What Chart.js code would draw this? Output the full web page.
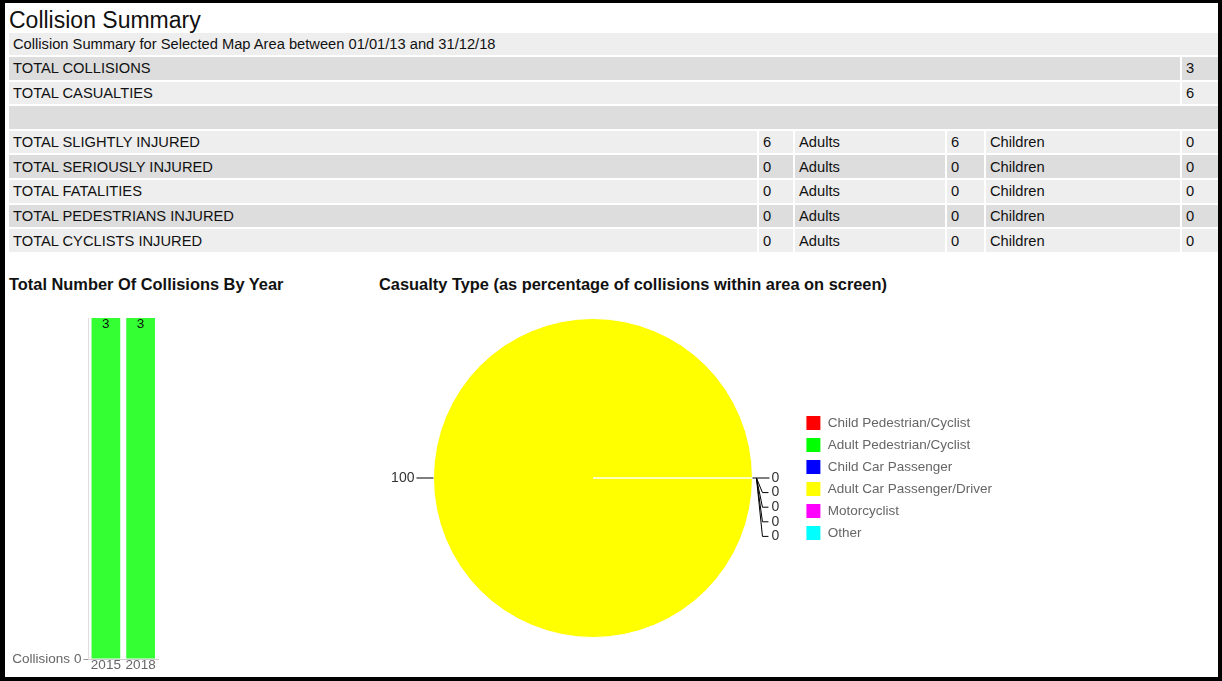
<!DOCTYPE html>
<html>
<head>
<meta charset="utf-8">
<script src="https://cdn.jsdelivr.net/npm/chart.js@4.4.0/dist/chart.umd.min.js"></script>
<style>
  html, body { margin:0; padding:0; background:#fff; width:1222px; height:681px; overflow:hidden; font-family: Arial, "Liberation Sans", sans-serif; }
  #frame { position:fixed; left:0; top:0; width:1222px; height:681px; box-sizing:border-box;
           border-style:solid; border-color:#000; border-width:3px 4px 4px 5px; pointer-events:none; z-index:10; }
  #heading { position:absolute; left:9px; top:8.5px; font-size:23px; line-height:23px; color:#111; white-space:nowrap; }
  #summary { position:absolute; left:7px; top:30.5px; width:1213px; table-layout:fixed; border-collapse:separate; border-spacing:2px; }
  #summary td { height:22.6px; padding:0 0 0 4px; font-size:14.7px; color:#111; white-space:nowrap; overflow:hidden; vertical-align:middle; }
  #summary tr.l td { background:#eeeeee; }
  #summary tr.d td { background:#dddddd; }
  .ctitle { position:absolute; font-weight:bold; font-size:16.4px; line-height:16px; color:#111; white-space:nowrap; }
  #barWrap { position:absolute; left:5px; top:300px; width:200px; height:381px; }
  #pieWrap { position:absolute; left:380px; top:298px; width:640px; height:360px; }
</style>
</head>
<body>
<div id="frame"></div>
<div id="heading">Collision Summary</div>
<table id="summary">
  <colgroup><col style="width:748px"><col style="width:34px"><col style="width:150px"><col style="width:37px"><col style="width:194px"><col style="width:36px"></colgroup>
  <tbody id="tbody"></tbody>
</table>
<div class="ctitle" style="left:9px;top:276px;">Total Number Of Collisions By Year</div>
<div class="ctitle" style="left:379px;top:276px;">Casualty Type (as percentage of collisions within area on screen)</div>
<div id="barWrap"><canvas id="bar" width="200" height="381"></canvas></div>
<div id="pieWrap"><canvas id="pie" width="640" height="360"></canvas></div>
<script>
// ---------- data ----------
const summaryHeader = 'Collision Summary for Selected Map Area between 01/01/13 and 31/12/18';
const totalLabels = ['TOTAL COLLISIONS', 'TOTAL CASUALTIES'];
const totalValues = [3, 6];
const injuryLabels = ['TOTAL SLIGHTLY INJURED', 'TOTAL SERIOUSLY INJURED', 'TOTAL FATALITIES', 'TOTAL PEDESTRIANS INJURED', 'TOTAL CYCLISTS INJURED'];
const injuryTotals = [6, 0, 0, 0, 0];
const injuryAdults = [6, 0, 0, 0, 0];
const injuryChildren = [0, 0, 0, 0, 0];

const years = ['2015', '2018'];
const collisionsByYear = [3, 3];
const yAxisTicks = [0];

const casualtyTypes = ['Child Pedestrian/Cyclist', 'Adult Pedestrian/Cyclist', 'Child Car Passenger', 'Adult Car Passenger/Driver', 'Motorcyclist', 'Other'];
const casualtyPercent = [0, 0, 0, 100, 0, 0];

// ---------- styles ----------
const casualtyColors = ['#ff0000', '#00ff00', '#0000ff', '#ffff00', '#ff00ff', '#00ffff'];
const FONT = 'Arial, "Liberation Sans", sans-serif';

// ---------- table ----------
(function buildTable() {
  const tb = document.getElementById('tbody');
  let rowIdx = 0;
  function addRow(cells) {
    const tr = document.createElement('tr');
    tr.className = (rowIdx++ % 2 === 0) ? 'l' : 'd';
    cells.forEach(c => {
      const td = document.createElement('td');
      if (c.span) td.colSpan = c.span;
      td.textContent = c.t;
      tr.appendChild(td);
    });
    tb.appendChild(tr);
  }
  addRow([{t: summaryHeader, span: 6}]);
  totalLabels.forEach((l, i) => addRow([{t: l, span: 5}, {t: String(totalValues[i])}]));
  addRow([{t: '', span: 6}]);
  injuryLabels.forEach((l, i) => addRow([
    {t: l}, {t: String(injuryTotals[i])}, {t: 'Adults'}, {t: String(injuryAdults[i])}, {t: 'Children'}, {t: String(injuryChildren[i])}
  ]));
})();

Chart.defaults.font.family = FONT;
Chart.defaults.color = '#666';

// ---------- bar chart ----------
const barValueLabels = {
  id: 'barValueLabels',
  afterDatasetsDraw(chart) {
    const ctx = chart.ctx;
    const meta = chart.getDatasetMeta(0);
    const data = chart.data.datasets[0].data;
    ctx.save();
    ctx.font = '13.5px ' + FONT;
    ctx.fillStyle = '#111';
    ctx.textAlign = 'center';
    ctx.textBaseline = 'middle';
    meta.data.forEach((bar, i) => {
      const p = bar.getProps(['x', 'y'], true);
      ctx.fillText(String(data[i]), p.x, p.y + 6);
    });
    ctx.restore();
  }
};
const yAxisName = {
  id: 'yAxisName',
  afterDraw(chart) {
    const ctx = chart.ctx;
    const ys = chart.scales.y;
    ctx.save();
    ctx.font = '13.5px ' + FONT;
    ctx.fillStyle = '#666';
    ctx.textAlign = 'right';
    ctx.textBaseline = 'middle';
    ctx.fillText('Collisions', chart.chartArea.left - 18.5, ys.getPixelForValue(0));
    ctx.restore();
  }
};

new Chart(document.getElementById('bar'), {
  type: 'bar',
  data: {
    labels: years,
    datasets: [{ data: collisionsByYear, backgroundColor: '#33ff33', barPercentage: 0.826, categoryPercentage: 1 }]
  },
  options: {
    responsive: false,
    animation: false,
    layout: { padding: { left: 0, right: 47, top: 18, bottom: 8.5 } },
    plugins: { legend: { display: false }, tooltip: { enabled: false } },
    scales: {
      x: {
        grid: { display: false, drawTicks: false, tickLength: 0 },
        border: { display: true, color: '#cccccc' },
        ticks: { padding: 0, autoSkip: false, maxRotation: 0, minRotation: 0, font: { size: 13.5, lineHeight: 1 }, color: '#666' }
      },
      y: {
        min: 0, max: 3,
        afterBuildTicks(scale) { scale.ticks = yAxisTicks.map(v => ({ value: v })); },
        afterFit(scale) { scale.width = 83.5; },
        grid: {
          drawOnChartArea: false, drawTicks: true, tickLength: 5,
          color: '#999999'
        },
        border: { display: true, color: '#dddddd' },
        ticks: { padding: 2, font: { size: 13.5 }, color: '#666' }
      }
    }
  },
  plugins: [barValueLabels, yAxisName]
});

// ---------- pie chart ----------
const pieLabels = {
  id: 'pieLabels',
  afterDatasetsDraw(chart) {
    const ctx = chart.ctx;
    const meta = chart.getDatasetMeta(0);
    const data = chart.data.datasets[0].data;
    const items = meta.data.map((arc, i) => {
      const p = arc.getProps(['x', 'y', 'startAngle', 'endAngle', 'outerRadius'], true);
      const mid = (p.startAngle + p.endAngle) / 2;
      const c = Math.cos(mid), s = Math.sin(mid);
      return { i, ax: p.x + c * p.outerRadius, ay: p.y + s * p.outerRadius, right: c >= 0, value: data[i] };
    });
    const gap = 14.6;
    [true, false].forEach(side => {
      const list = items.filter(it => it.right === side).sort((a, b) => a.ay - b.ay);
      let last = -Infinity;
      list.forEach(it => { it.ly = Math.max(it.ay, last + gap); last = it.ly; });
    });
    ctx.save();
    ctx.strokeStyle = '#000';
    ctx.lineWidth = 1;
    ctx.font = '14px ' + FONT;
    ctx.fillStyle = '#333';
    ctx.textBaseline = 'middle';
    items.forEach(it => {
      const dir = it.right ? 1 : -1;
      ctx.beginPath();
      if (Math.abs(it.ly - it.ay) < 0.5) {
        ctx.moveTo(it.ax, it.ay);
        ctx.lineTo(it.ax + dir * 17, it.ay);
      } else {
        ctx.moveTo(it.ax + dir * 4, it.ay);
        ctx.lineTo(it.ax + dir * 10, it.ly);
        ctx.lineTo(it.ax + dir * 16, it.ly);
      }
      ctx.stroke();
      ctx.textAlign = it.right ? 'left' : 'right';
      ctx.fillText(String(it.value), it.ax + dir * 19, it.ly);
    });
    ctx.restore();
  }
};

new Chart(document.getElementById('pie'), {
  type: 'pie',
  data: {
    labels: casualtyTypes,
    datasets: [{ data: casualtyPercent, backgroundColor: casualtyColors, borderColor: '#ffffff', borderWidth: 1 }]
  },
  options: {
    responsive: false,
    animation: false,
    rotation: 90,
    layout: { padding: { left: 7, right: 18, top: 20, bottom: 20 } },
    plugins: {
      tooltip: { enabled: false },
      legend: {
        position: 'right',
        align: 'center',
        labels: { boxWidth: 15, boxHeight: 15, padding: 7, color: '#666', font: { size: 13.5 } }
      }
    }
  },
  plugins: [pieLabels]
});
</script>
</body>
</html>
